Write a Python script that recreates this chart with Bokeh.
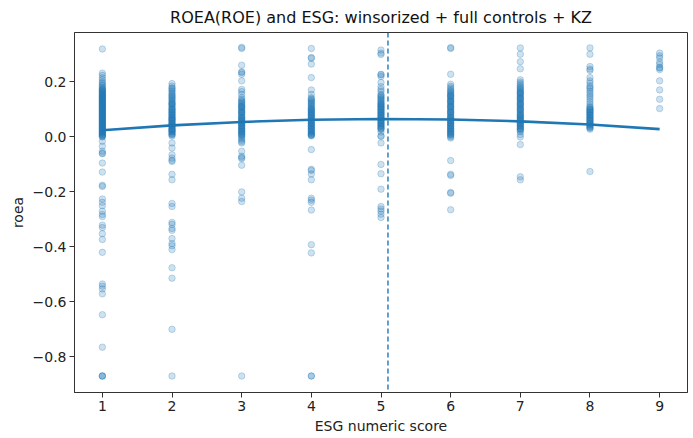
from bokeh.plotting import figure
from bokeh.models import Span, Range1d, FixedTicker, CustomJSTickFormatter, ColumnDataSource
from bokeh.embed import file_html
from bokeh.resources import INLINE

# ---------------- data ----------------
esg_scores = [1, 2, 3, 4, 5, 6, 7, 8, 9]

esg1_roea = [0.32, 0.232, 0.224, 0.215, 0.208, 0.2, 0.196, 0.19, 0.186, 0.181, 0.177, 0.174, 0.17, 0.166,
             0.163, 0.16, 0.156, 0.153, 0.15, 0.147, 0.144, 0.141, 0.138, 0.135, 0.132, 0.129, 0.126, 0.123,
             0.12, 0.117, 0.114, 0.111, 0.108, 0.105, 0.102, 0.099, 0.096, 0.093, 0.09, 0.087, 0.084, 0.081,
             0.078, 0.075, 0.072, 0.069, 0.066, 0.063, 0.06, 0.057, 0.054, 0.051, 0.048, 0.045, 0.042, 0.039,
             0.036, 0.033, 0.03, 0.027, 0.024, 0.021, 0.018, 0.015, 0.012, 0.009, 0.006, 0.003, 0.0,
             0.172, 0.165, 0.158, 0.15, 0.142, 0.135, 0.127, 0.12, 0.112, 0.105, 0.097, 0.09, 0.082, 0.075,
             0.067, 0.06, 0.052, 0.045, 0.037, 0.03, 0.022, 0.015, 0.008, 0.002,
             -0.016, -0.034, -0.052, -0.059, -0.061, -0.095, -0.128, -0.176, -0.18, -0.226, -0.238, -0.25,
             -0.27, -0.282, -0.29, -0.321, -0.33, -0.352, -0.373, -0.42, -0.535, -0.543, -0.553, -0.571,
             -0.647, -0.765, -0.87, -0.87, -0.87]
esg2_roea = [0.194, 0.185, 0.178, 0.176, 0.17, 0.165, 0.16, 0.155, 0.151, 0.147, 0.143, 0.139, 0.135, 0.131,
             0.127, 0.123, 0.119, 0.115, 0.111, 0.107, 0.103, 0.099, 0.095, 0.091, 0.087, 0.083, 0.079, 0.075,
             0.071, 0.067, 0.063, 0.059, 0.055, 0.051, 0.047, 0.043, 0.039, 0.035, 0.031, 0.027, 0.023, 0.019,
             0.015, 0.011, 0.007, 0.003,
             0.12, 0.1, 0.09, 0.08, 0.07, 0.06, 0.05, 0.04, 0.03, 0.02, 0.01, 0.065, 0.045, 0.025,
             -0.022, -0.04, -0.065, -0.077, -0.085, -0.089, -0.136, -0.156, -0.242, -0.253, -0.311, -0.318,
             -0.333, -0.34, -0.37, -0.388, -0.396, -0.41, -0.476, -0.514, -0.70, -0.87]
esg3_roea = [0.322, 0.326, 0.261, 0.237, 0.234, 0.228, 0.204, 0.173, 0.165, 0.155, 0.143, 0.137, 0.132, 0.128,
             0.124, 0.12, 0.116, 0.112, 0.108, 0.104, 0.1, 0.096, 0.092, 0.088, 0.084, 0.08, 0.076, 0.072,
             0.068, 0.064, 0.06, 0.056, 0.052, 0.048, 0.044, 0.04, 0.036, 0.032, 0.028, 0.024, 0.02, 0.016,
             0.012, 0.008, 0.004, 0.0, -0.006, -0.012, -0.018, -0.022,
             0.11, 0.09, 0.07, 0.05, 0.03, 0.01, 0.06, 0.04, 0.02,
             -0.052, -0.07, -0.075, -0.079, -0.103, -0.2, -0.223, -0.235, -0.87]
esg4_roea = [0.322, 0.286, 0.289, 0.265, 0.216, 0.171, 0.155, 0.143, 0.139, 0.135, 0.131, 0.127, 0.123, 0.119,
             0.115, 0.111, 0.107, 0.103, 0.099, 0.095, 0.091, 0.087, 0.083, 0.079, 0.075, 0.071, 0.067, 0.063,
             0.059, 0.055, 0.051, 0.047, 0.043, 0.039, 0.035, 0.031, 0.027, 0.023, 0.019, 0.015, 0.011, 0.007,
             0.004,
             0.1, 0.08, 0.06, 0.04, 0.02, 0.01, 0.005, 0.09, 0.07, 0.05, 0.03,
             -0.046, -0.118, -0.122, -0.135, -0.156, -0.223, -0.23, -0.238, -0.266, -0.392, -0.422, -0.87, -0.87]
esg5_roea = [0.316, 0.305, 0.3, 0.228, 0.226, 0.22, 0.198, 0.183, 0.173, 0.165, 0.155, 0.151, 0.147, 0.143,
             0.139, 0.135, 0.131, 0.127, 0.123, 0.119, 0.115, 0.111, 0.107, 0.103, 0.099, 0.095, 0.091, 0.087,
             0.083, 0.079, 0.075, 0.071, 0.067, 0.063, 0.059, 0.055, 0.051, 0.047, 0.043, 0.039, 0.035, 0.031,
             0.027,
             0.12, 0.1, 0.08, 0.06, 0.04, 0.03, 0.11, 0.09, 0.07, 0.05,
             0.018, 0.004, 0.002, -0.022, -0.1, -0.134, -0.19, -0.253, -0.262, -0.27, -0.281, -0.293]
esg6_roea = [0.322, 0.325, 0.228, 0.192, 0.184, 0.178, 0.172, 0.168, 0.164, 0.16, 0.156, 0.152, 0.148, 0.144,
             0.14, 0.136, 0.132, 0.128, 0.124, 0.12, 0.116, 0.112, 0.108, 0.104, 0.1, 0.096, 0.092, 0.088,
             0.084, 0.08, 0.076, 0.072, 0.068, 0.064, 0.06, 0.056, 0.052, 0.048, 0.044, 0.04, 0.036, 0.032,
             0.028, 0.024, 0.02, 0.016, 0.012, 0.008, 0.004, 0.0, -0.004,
             0.15, 0.13, 0.11, 0.09, 0.07, 0.05, 0.03, 0.01, 0.06, 0.04, 0.02,
             -0.086, -0.136, -0.14, -0.202, -0.205, -0.265]
esg7_roea = [0.324, 0.301, 0.274, 0.248, 0.208, 0.2, 0.194, 0.188, 0.183, 0.179, 0.175, 0.171, 0.167, 0.163,
             0.159, 0.155, 0.151, 0.147, 0.143, 0.139, 0.135, 0.131, 0.127, 0.123, 0.119, 0.115, 0.111, 0.107,
             0.103, 0.099, 0.095, 0.091, 0.087, 0.083, 0.079, 0.075, 0.071, 0.067, 0.063, 0.059, 0.055, 0.051,
             0.047, 0.043, 0.039, 0.035, 0.031, 0.027, 0.023, 0.019,
             0.16, 0.14, 0.12, 0.1, 0.08, 0.06, 0.04, 0.03, 0.05, 0.07,
             0.009, 0.0, -0.028, -0.145, -0.156]
esg8_roea = [0.324, 0.301, 0.256, 0.247, 0.242, 0.216, 0.204, 0.196, 0.186, 0.18, 0.175, 0.167, 0.16, 0.152,
             0.145, 0.137, 0.128, 0.12, 0.112, 0.108, 0.104, 0.1, 0.096, 0.092, 0.088, 0.084, 0.08, 0.076,
             0.072, 0.068, 0.064, 0.06, 0.056, 0.052, 0.048, 0.044, 0.04, 0.036, 0.032, 0.028,
             0.09, 0.07, 0.05, 0.035, 0.1, 0.08, 0.06, 0.045, -0.126]
esg9_roea = [0.305, 0.295, 0.287, 0.272, 0.264, 0.253, 0.251, 0.245, 0.204, 0.171, 0.137, 0.103]

# fitted quadratic curve values read at each score
fit_x = [1, 2, 3, 4, 5, 6, 7, 8, 9]
fit_y = [0.0245, 0.042, 0.0545, 0.0625, 0.0655, 0.0635, 0.0567, 0.045, 0.0284]

turning_point = 5.1

y_ticks = [-0.8, -0.6, -0.4, -0.2, 0.0, 0.2]
x_ticks = [1, 2, 3, 4, 5, 6, 7, 8, 9]

title_text = "ROEA(ROE) and ESG: winsorized + full controls + KZ"
x_label = "ESG numeric score"
y_label = "roea"

# ---------------- build ----------------
columns = [esg1_roea, esg2_roea, esg3_roea, esg4_roea, esg5_roea,
           esg6_roea, esg7_roea, esg8_roea, esg9_roea]
xs, ys = [], []
for score, vals in zip(esg_scores, columns):
    xs.extend([score] * len(vals))
    ys.extend(vals)
src = ColumnDataSource(dict(x=xs, y=ys))

BLUE = "#1f77b4"
FONT = "DejaVu Sans"

p = figure(width=690, height=436, output_backend="svg", toolbar_location=None,
           x_range=Range1d(0.6, 9.4), y_range=Range1d(-0.93, 0.38),
           min_border_left=74, min_border_right=3, min_border_top=0, min_border_bottom=0)

p.title.text = title_text
p.title.align = "center"
p.title.text_font = FONT
p.title.text_font_size = "16px"
p.title.text_font_style = "normal"
p.title.text_color = "#111111"
p.title.standoff = 11

p.scatter("x", "y", source=src, size=6.5, marker="circle",
          fill_color=BLUE, fill_alpha=0.22, line_color=BLUE, line_alpha=0.25, line_width=1)

p.line(fit_x, fit_y, line_color=BLUE, line_width=2.6)

p.add_layout(Span(location=turning_point, dimension="height", line_color=BLUE,
                  line_width=1.4, line_dash="5 3"))

p.xgrid.visible = False
p.ygrid.visible = False
p.outline_line_color = "#333333"
p.outline_line_width = 1

for ax in (p.xaxis[0], p.yaxis[0]):
    ax.axis_line_color = "#333333"
    ax.major_tick_line_color = "#333333"
    ax.major_tick_out = 5
    ax.major_tick_in = 0
    ax.minor_tick_line_color = None
    ax.major_label_text_font = FONT
    ax.major_label_text_font_size = "14px"
    ax.major_label_text_color = "#222222"
    ax.axis_label_text_font = FONT
    ax.axis_label_text_font_size = "14px"
    ax.axis_label_text_font_style = "normal"
    ax.axis_label_text_color = "#222222"
    ax.major_label_standoff = 3
    ax.axis_label_standoff = 4

p.xaxis.ticker = FixedTicker(ticks=x_ticks)
p.yaxis.ticker = FixedTicker(ticks=y_ticks)
p.yaxis.formatter = CustomJSTickFormatter(code="return tick.toFixed(1).replace('-', '\u2212');")
p.xaxis.axis_label = x_label
p.yaxis.axis_label = y_label

open("out.html", "w").write(file_html(p, INLINE))
